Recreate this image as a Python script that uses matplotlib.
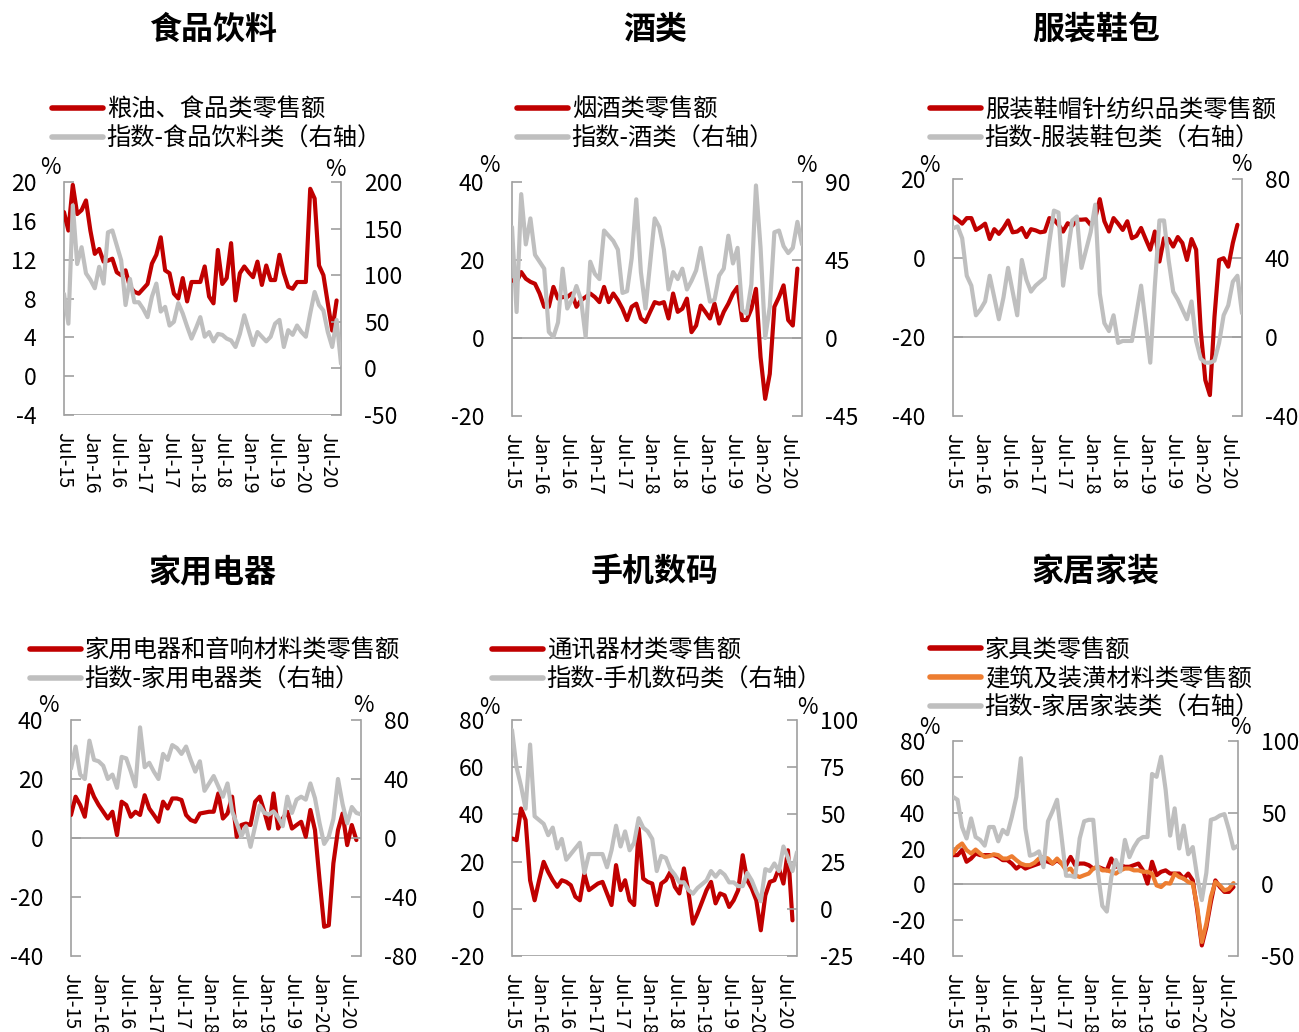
import numpy as np
import matplotlib
matplotlib.use("Agg")
import matplotlib.pyplot as plt
from matplotlib.lines import Line2D

plt.rcParams['font.family'] = ['Noto Sans CJK SC', 'DejaVu Sans']
plt.rcParams['axes.unicode_minus'] = False

N = None
# x-axis
tick_labels = ['Jul-15', 'Jan-16', 'Jul-16', 'Jan-17', 'Jul-17', 'Jan-18',
               'Jul-18', 'Jan-19', 'Jul-19', 'Jan-20', 'Jul-20']

# ---------------- 食品饮料 ----------------
food_retail = [16.9, 15.0, 19.7, 16.7, 17.1, 18.1, 15.0, 12.6, 13.1, 11.8, 11.9, 12.1,
               10.7, 10.4, 10.9, 9.2, 8.7, 8.5, 9.0, 9.5, 11.6, 12.5, 14.3, 10.9,
               10.6, 8.5, 8.0, 10.1, 7.7, 9.7, 9.7, 9.7, 11.3, 8.2, 7.5, 13.0,
               9.5, 10.1, 13.7, 7.8, 10.6, 11.3, 10.7, 10.2, 11.8, 9.4, 11.4, 9.9,
               9.9, 12.5, 10.6, 9.2, 9.0, 9.7, 9.7, 9.7, 19.3, 18.3, 11.4, 10.4,
               7.5, 4.7, 7.8, N]
food_index = [80, 48, 175, 112, 130, 102, 95, 86, 109, 91, 146, 148,
              132, 116, 68, 96, 71, 71, 64, 55, 77, 91, 61, 66,
              46, 50, 70, 59, 45, 32, 43, 55, 34, 39, 29, 37,
              36, 32, 30, 23, 37, 57, 41, 25, 39, 34, 29, 34,
              48, 52, 23, 41, 36, 46, 39, 34, 59, 82, 68, 62,
              39, 23, 52, 5]

# ---------------- 酒类 ----------------
liquor_retail = [14.8, 14.4, 16.9, 15.2, 14.4, 13.9, 11.4, 8.0, 8.0, 13.1, 10.1, 10.5,
                 10.5, 11.4, 8.0, 9.7, 10.5, 11.4, 10.5, 9.2, 13.1, 9.2, 11.4, 9.7,
                 7.5, 4.6, 8.0, 8.8, 5.0, 4.1, 6.7, 9.2, 8.8, 9.2, 5.0, 11.4,
                 6.7, 7.5, 10.1, 1.5, 3.2, 8.3, 6.7, 5.0, 8.8, 3.7, 6.7, 8.8,
                 11.4, 13.1, 4.6, 4.6, 7.5, 12.6, -4.9, -15.6, -9.2, 8.0, 10.5, 13.5,
                 4.6, 3.2, 17.8, N]
liquor_index = [64, 15, 83, 54, 69, 48, 44, 40, 3.5, 0.6, 9, 40,
                17, 22, 30, 22, 0.6, 44, 37, 34, 62, 59, 56, 51,
                26, 27, 46, 80, 38, 17, 43, 69, 64, 51, 28, 38,
                34, 40, 28, 33, 39, 52, 36, 21, 22, 36, 40, 59,
                43, 52, 16, 14, 31, 88, 52, 0, 18, 61, 62, 53,
                49, 52, 67, 54]

# ---------------- 服装鞋包 ----------------
apparel_retail = [10.5, 9.7, 8.7, 10.1, 10.1, 7.1, 7.8, 8.7, 4.8, 7.3, 6.1, 7.6,
                  9.5, 6.5, 6.7, 7.6, 5.3, 7.3, 7.0, 6.5, 6.7, 10.1, 9.7, 8.4,
                  6.7, 8.8, 8.2, 9.7, 9.7, 9.8, 8.4, 10.1, 14.9, 9.3, 6.7, 10.1,
                  8.7, 7.1, 9.3, 5.0, 5.6, 7.6, 4.8, 2.1, 6.7, -0.9, 5.0, 4.8,
                  2.9, 5.3, 3.8, -0.5, 4.8, 2.1, -18.2, -30.9, -34.7, -14.9, -0.5, -0.05,
                  -2.2, 3.8, 8.4, N]
apparel_index = [55, 56, 50, 31, 26, 11, 14, 18, 31, 20, 9, 20,
                 35, 23, 11, 39, 29, 23, 26, 28, 30, 48, 64, 63,
                 26, 43, 59, 61, 35, 44, 53, 67, 22, 7, 3, 11,
                 -3, -2, -2, -2, 12, 26, 7, -13, 26, 59, 59, 39,
                 23, 19, 14, 9, 18, -2, -11, -13, -13, -12, -3, 11,
                 16, 28, 31, 12]

# ---------------- 家用电器 ----------------
appliance_retail = [7.8, 14.0, 11.2, 7.2, 17.9, 14.0, 11.2, 8.9, 6.6, 8.9, 1.0, 12.3,
                    11.2, 7.2, 8.9, 7.8, 14.5, 10.0, 7.8, 5.5, 12.3, 10.0, 13.4, 13.4,
                    12.9, 7.8, 6.1, 5.5, 8.3, 8.6, 8.9, 8.9, 15.1, 6.6, 8.3, 14.0,
                    0.4, 4.4, 4.9, 4.4, 12.3, 14.0, 8.9, 3.2, 15.1, 3.2, 6.6, 8.9,
                    3.2, 4.4, 5.5, 0.4, 9.5, 2.7, -14.3, -30.1, -29.6, -8.6, 2.7, 8.3,
                    -2.4, 4.4, -0.7, N]
appliance_index = [47, 62, 43, 40, 66, 53, 52, 49, 40, 43, 34, 55,
                   54, 45, 35, 75, 48, 51, 45, 40, 57, 53, 63, 61,
                   57, 62, 53, 45, 52, 32, 37, 42, 35, 28, 37, 18,
                   10, 1, 8, -6, 8, 22, 17, 16, 18, 14, 8, 28,
                   17, 26, 28, 26, 37, 27, 10, -4, 1, 13, 40, 23,
                   10, 21, 17, 16]

# ---------------- 手机数码 ----------------
phone_retail = [29.8, 29.1, 42.5, 37.6, 12.1, 3.6, 12.1, 19.9, 15.6, 12.1, 9.3, 12.1,
                11.4, 10.0, 5.1, 3.6, 14.9, 7.9, 9.3, 10.7, 11.4, 6.5, 1.6, 18.5,
                7.9, 12.1, 3.6, 1.6, 34.0, 12.8, 11.4, 10.7, 1.6, 10.7, 12.1, 15.6,
                9.3, 6.5, 17.1, 7.2, -6.3, -2.0, 2.9, 7.9, 11.4, 2.3, 6.5, 5.7,
                0.8, 3.6, 7.9, 22.7, 12.1, 8.6, 3.6, -9.1, 5.7, 11.4, 12.1, 17.1,
                10.7, 24.8, -4.9, N]
phone_index = [94.7, 75, 65, 53, 87, 49, 47, 45, 39, 43, 32, 37,
               26, 29, 32, 35, 19, 29, 29, 29, 29, 22, 31, 44,
               33, 41, 31, 35, 48, 43, 41, 37, 20, 28, 27, 21,
               18, 14, 14, 10, 8, 11, 13, 15, 20, 17, 20, 18,
               14, 14, 12, 12, 19, 15, 9, 4, 21, 20, 24, 20,
               33, 27, 20, 30]

# ---------------- 家居家装 ----------------
furniture_retail = [16.3, 16.3, 19.1, 12.6, 14.4, 17.2, 16.3, 16.3, 16.3, 16.3, 15.3, 13.5,
                    13.5, 11.6, 8.8, 10.7, 8.8, 9.8, 10.7, 11.6, 13.5, 12.6, 11.6, 13.5,
                    11.6, 10.7, 15.3, 10.7, 11.6, 11.6, 10.7, 8.8, 9.8, 8.8, 7.8, 14.4,
                    9.8, 10.7, 9.8, 9.8, 10.7, 11.6, 7.8, 0.4, 12.6, 5.1, 7.0, 7.8,
                    6.0, 6.0, 6.0, 3.2, 6.0, 2.2, -14.5, -34.1, -23.9, -9.9, 2.2, -1.5,
                    -4.2, -4.2, -1.5, N]
building_retail = [17.2, 20.9, 22.8, 19.1, 17.2, 19.4, 17.2, 15.3, 15.7, 16.8, 16.3, 14.4,
                   14.4, 15.7, 13.5, 11.6, 10.7, 10.7, 12.0, 14.4, 15.3, 14.4, 11.6, 14.4,
                   11.6, 7.8, 8.8, 5.1, 4.1, 5.1, 6.0, 8.8, 9.8, 7.8, 7.8, 7.0,
                   6.0, 7.8, 8.8, 8.8, 7.8, 7.8, 7.0, 7.0, 6.0, -0.6, -1.5, 0.7,
                   0.4, 6.0, 4.1, 3.2, 1.3, 0.4, -12.7, -32.2, -21.9, -7.0, 1.3, -0.6,
                   -3.4, -2.5, 0.7, N]
home_index = [61, 59, 40, 32, 46, 33, 31, 27, 40, 40, 30, 38,
              35, 47, 61, 88, 39, 20, 21, 23, 12, 44, 51, 59,
              33, 6, 6, 5, 32, 44, 45, 45, 9, -15, -19, 5,
              17, 9, 31, 19, 26, 31, 33, 33, 77, 75, 89, 66,
              34, 53, 25, 41, 21, 26, 5, -11, 8, 45, 46, 48,
              49, 38, 25, 27]

RED = '#C00000'
GRAY = '#BFBFBF'
ORANGE = '#ED7D31'
AXC = '#A0A0A0'

W, H = 1299, 1032
fig = plt.figure(figsize=(W / 100, H / 100), dpi=100)


def fx(x):
    return x / W


def fy(y):
    return 1 - y / H


panels = [
    dict(title='食品饮料', tx=213, ty=30, box=(64, 182, 341, 415),
         lticks=[-4, 0, 4, 8, 12, 16, 20], rticks=[-50, 0, 50, 100, 150, 200],
         base=-4, lg=(52, 92),
         left=[(food_retail, RED, '粮油、食品类零售额')],
         right=[(food_index, GRAY, '指数-食品饮料类（右轴）')],
         pl=(50, 167), pr=(335, 170)),
    dict(title='酒类', tx=655, ty=30, box=(512, 182, 802, 416),
         lticks=[-20, 0, 20, 40], rticks=[-45, 0, 45, 90],
         base=0, lg=(517, 92),
         left=[(liquor_retail, RED, '烟酒类零售额')],
         right=[(liquor_index, GRAY, '指数-酒类（右轴）')],
         pl=(489, 165), pr=(806, 165)),
    dict(title='服装鞋包', tx=1096, ty=30, box=(953, 179, 1242, 416),
         lticks=[-40, -20, 0, 20], rticks=[-40, 0, 40, 80],
         base=-20, lg=(930, 92),
         left=[(apparel_retail, RED, '服装鞋帽针纺织品类零售额')],
         right=[(apparel_index, GRAY, '指数-服装鞋包类（右轴）')],
         pl=(929, 165), pr=(1241, 164)),
    dict(title='家用电器', tx=213, ty=572, box=(71, 720, 361, 956),
         lticks=[-40, -20, 0, 20, 40], rticks=[-80, -40, 0, 40, 80],
         base=0, lg=(30, 633),
         left=[(appliance_retail, RED, '家用电器和音响材料类零售额')],
         right=[(appliance_index, GRAY, '指数-家用电器类（右轴）')],
         pl=(48, 705), pr=(363, 705)),
    dict(title='手机数码', tx=655, ty=572, box=(512, 720, 797, 956),
         lticks=[-20, 0, 20, 40, 60, 80], rticks=[-25, 0, 25, 50, 75, 100],
         base=-20, lg=(492, 633),
         left=[(phone_retail, RED, '通讯器材类零售额')],
         right=[(phone_index, GRAY, '指数-手机数码类（右轴）')],
         pl=(489, 708), pr=(807, 708)),
    dict(title='家居家装', tx=1096, ty=572, box=(953, 741, 1238, 956),
         lticks=[-40, -20, 0, 20, 40, 60, 80], rticks=[-50, 0, 50, 100],
         base=0, lg=(930, 632),
         left=[(furniture_retail, RED, '家具类零售额'),
               (building_retail, ORANGE, '建筑及装潢材料类零售额')],
         right=[(home_index, GRAY, '指数-家居家装类（右轴）')],
         pl=(929, 728), pr=(1240, 728)),
]

LW = 3.0
for p in panels:
    l, t, r, b = p['box']
    ax = fig.add_axes([fx(l), fy(b), (r - l) / W, (b - t) / H])
    ax2 = ax.twinx()
    handles, labels = [], []
    for vals, col, lab in p['left']:
        v = np.array(vals, dtype=float)
        ax.plot(np.arange(len(v)), v, color=col, lw=LW, solid_joinstyle='round',
                solid_capstyle='round', zorder=3)
        handles.append(Line2D([], [], color=col, lw=4.0, solid_capstyle='round'))
        labels.append(lab)
    for vals, col, lab in p['right']:
        v = np.array(vals, dtype=float)
        ax2.plot(np.arange(len(v)), v, color=col, lw=LW, solid_joinstyle='round',
                 solid_capstyle='round', zorder=3)
        handles.append(Line2D([], [], color=col, lw=4.0, solid_capstyle='round'))
        labels.append(lab)

    ax.set_xlim(0, 63)
    ax.set_ylim(min(p['lticks']), max(p['lticks']))
    ax2.set_ylim(min(p['rticks']), max(p['rticks']))
    ax.set_yticks(p['lticks'])
    ax2.set_yticks(p['rticks'])
    ax.set_yticklabels([str(v) for v in p['lticks']])
    ax2.set_yticklabels([str(v) for v in p['rticks']])
    ax.set_xticks(np.arange(0, 61, 6))
    ax.set_xticklabels(tick_labels, rotation=270, va='top', ha='center')
    ax.tick_params(axis='x', length=0, pad=12, labelsize=14)
    ax.tick_params(axis='y', direction='in', length=7, width=1.2, color=AXC,
                   pad=20, labelsize=16.5)
    ax2.tick_params(axis='y', direction='in', length=7, width=1.2, color=AXC,
                    pad=16.5, labelsize=16.5)
    for a in (ax, ax2):
        for s in ('top', 'bottom'):
            a.spines[s].set_visible(False)
        a.spines['left'].set_color(AXC)
        a.spines['right'].set_color(AXC)
        a.spines['left'].set_linewidth(1.2)
        a.spines['right'].set_linewidth(1.2)
        a.patch.set_visible(False)
    ax2.spines['left'].set_visible(False)
    ax.spines['right'].set_visible(False)
    ax.axhline(p['base'], color=AXC, lw=1.2, zorder=1)

    fig.text(fx(p['tx']), fy(p['ty']), p['title'], ha='center', va='center',
             fontsize=23, fontweight='bold')
    fig.text(fx(p['pl'][0]), fy(p['pl'][1]), '%', ha='center', va='center', fontsize=16)
    fig.text(fx(p['pr'][0]), fy(p['pr'][1]), '%', ha='center', va='center', fontsize=16)

    ax.legend(handles, labels, loc='upper left',
              bbox_to_anchor=(fx(p['lg'][0]), fy(p['lg'][1] + 5)),
              bbox_transform=fig.transFigure, frameon=False, fontsize=17.5,
              handlelength=2.1, handletextpad=0.15, labelspacing=0.12,
              borderpad=0, borderaxespad=0)

fig.savefig('out.png', dpi=100)
